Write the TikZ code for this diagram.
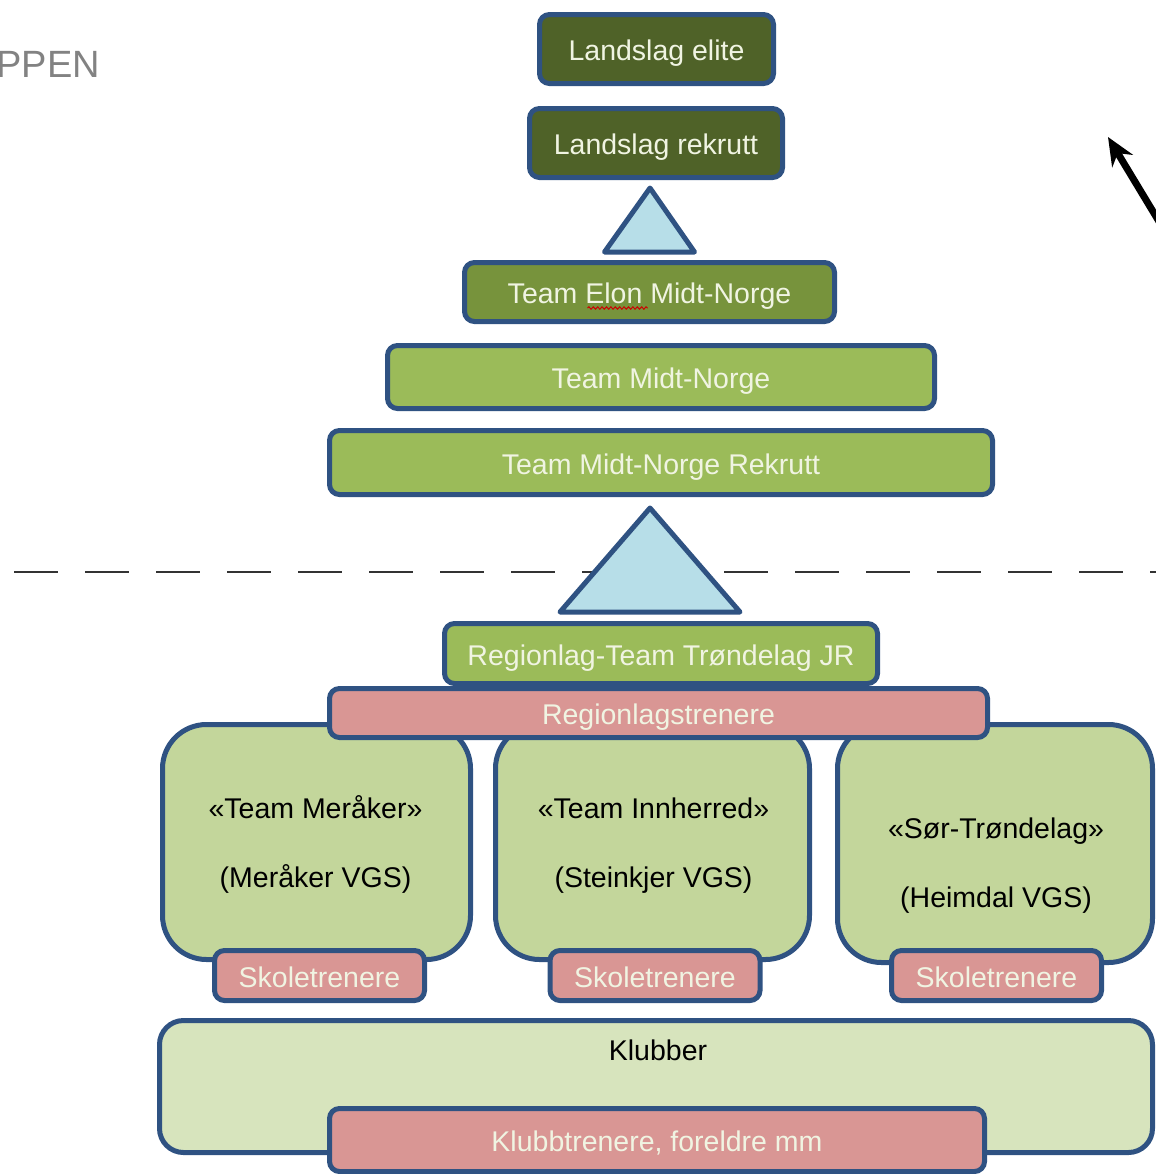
\documentclass[tikz,border=0pt]{standalone}
\usepackage{fontspec}
\setmainfont{Liberation Sans}
\usepackage{tikz}
\usetikzlibrary{arrows,arrows.meta,positioning,calc,decorations.pathmorphing}
\definecolor{boxline}{RGB}{47,82,130}
\definecolor{elitegreen}{RGB}{79,98,40}
\definecolor{elongreen}{RGB}{119,147,60}
\definecolor{teamgreen}{RGB}{155,187,89}
\definecolor{schoolgreen}{RGB}{195,214,155}
\definecolor{clubgreen}{RGB}{215,228,189}
\definecolor{coachpink}{RGB}{217,150,148}
\definecolor{triblue}{RGB}{183,222,232}
\definecolor{paletext}{RGB}{240,244,226}
\definecolor{pentext}{RGB}{130,130,130}
\tikzset{
    %Define standard arrow tip
    >={Stealth[length=14pt,width=12pt]},
    %Define style for boxes
    level/.style={
           draw=boxline,
           line width=2.5pt,
           rounded corners=5pt,
           inner sep=0pt,
           text centered,
           text height=11.5pt,
           text depth=0pt,
           text=paletext,
           font=\fontsize{14.25}{17}\selectfont},
    coach/.style={
           level,
           fill=coachpink},
    school/.style={
           draw=boxline,
           line width=2.5pt,
           rounded corners=22pt,
           fill=schoolgreen,
           inner sep=0pt},
    schooltext/.style={
           align=center,
           inner sep=0pt,
           text=black,
           font=\fontsize{14.25}{17}\selectfont},
    % Define triangle style
    lift/.style={
           draw=boxline,
           line width=2.5pt,
           fill=triblue,
           line join=round},
    % Define arrow style
    pil/.style={
           ->,
           line width=3.5pt,
           black}
}

\begin{document}
\begin{tikzpicture}[x=0.5pt, y=-0.5pt]
	\useasboundingbox (0,0) rectangle (1156,1174);
	\clip (0,0) rectangle (1156,1174);

	% Heading left over from the slide
	\node[anchor=base west, inner sep=0pt, text=pentext, font=\fontsize{19}{22}\selectfont] (heading) at (-4,77) {PPEN};

	% Dividing line
	\coordinate (cut-left) at (14,572);
	\coordinate (cut-right) at (1170,572);
	\draw[line width=1pt, black!80, dash pattern=on 22pt off 13.5pt] (cut-left) -- (cut-right);

	% National level
	\node[level, fill=elitegreen, minimum width=117pt, minimum height=34.5pt] (elite) at (656.5,49) {Landslag elite};
	\node[level, fill=elitegreen, minimum width=126.5pt, minimum height=34.5pt] (lrekrutt) at (656,143) {Landslag rekrutt};

	% Team level
	\node[level, fill=elongreen, minimum width=185pt, minimum height=29.5pt] (elon) at (649.5,292) {Team Elon Midt-Norge};
	\node[level, fill=teamgreen, minimum width=273.5pt, minimum height=31.5pt] (midt) at (661,377) {Team Midt-Norge};
	\node[level, fill=teamgreen, minimum width=331.5pt, minimum height=32pt] (mrekrutt) at (661,462.5) {Team Midt-Norge Rekrutt};
	\draw[red!80!black, line width=0.5pt, decorate, decoration={snake, amplitude=0.6pt, segment length=2.2pt}]
	     ($(elon.center)+(-62,16)$) -- ($(elon.center)+(-2,16)$);

	% Triangles
	\draw[lift] ($(lrekrutt.south)+(-6,8)$) -- ($(elon.north)+(45,-8)$) -- ($(elon.north)+(-45,-8)$) -- cycle;

	% Region level
	\node[level, fill=teamgreen, minimum width=216.5pt, minimum height=30pt] (region) at (661,653.5) {Regionlag-Team Trøndelag JR};
	\draw[lift] ($(region.north)+(-11,-113)$) -- ($(region.north)+(79,-9)$) -- ($(region.north)+(-101,-9)$) -- cycle;

	% Schools
	\node[school, minimum width=154pt, minimum height=117.5pt] (meraker) at (316.5,842) {};
	\node[school, minimum width=157pt, minimum height=117.5pt] (innherred) at (652.5,842) {};
	\node[school, minimum width=157.5pt, minimum height=119pt] (sor) at (995,843.5) {};
	\node[schooltext] (meraker-txt) at (315.5,844) {«Team Meråker»\\[17.5pt](Meråker VGS)};
	\node[schooltext] (innherred-txt) at (653.5,846) {«Team Innherred»\\[17.5pt](Steinkjer VGS)};
	\node[schooltext] (sor-txt) at (996,866) {«Sør-Trøndelag»\\[17.5pt](Heimdal VGS)};

	\node[coach, minimum width=329pt, minimum height=24.5pt] (rtrenere) at (658.5,713) {Regionlagstrenere};
	\node[coach, minimum width=105pt, minimum height=25pt] (skole1) at (319.5,975.5) {Skoletrenere};
	\node[coach, minimum width=105pt, minimum height=25pt] (skole2) at (655,975.5) {Skoletrenere};
	\node[coach, minimum width=105pt, minimum height=25pt] (skole3) at (996.5,975.5) {Skoletrenere};

	% Clubs
	\node[school, fill=clubgreen, rounded corners=12pt, minimum width=496.5pt, minimum height=66pt] (klubber) at (656,1086.5) {};
	\node[schooltext] (klubber-txt) at (658,1050) {Klubber};
	\node[coach, minimum width=327.5pt, minimum height=31.5pt] (ktrenere) at (657,1140) {Klubbtrenere, foreldre mm};

	% Arrow on the right
	\coordinate (arr-start) at (1172,243);
	\coordinate (arr-end) at (1108,137);
	\draw[pil] (arr-start) -- (arr-end);

\end{tikzpicture}
\end{document}
